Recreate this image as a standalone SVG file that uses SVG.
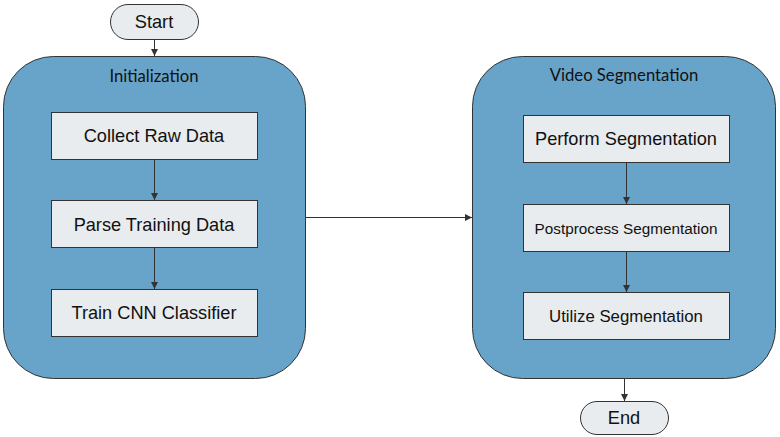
<svg xmlns="http://www.w3.org/2000/svg" width="780" height="437" viewBox="0 0 780 437">
<defs>
<marker id="ah" markerWidth="8" markerHeight="8" refX="7" refY="4" orient="auto" markerUnits="userSpaceOnUse">
<path d="M0,0.5 L7,4 L0,7.5 Z" fill="#333"/>
</marker>
<style>
.cont{fill:#68a4c9;stroke:#333;stroke-width:1}
.box{fill:#e8ecee;stroke:#333;stroke-width:1}
.term{fill:#e8ecee;stroke:#333;stroke-width:1}
.title{font-family:Lato,"Liberation Sans",sans-serif;font-size:16.7px;fill:#111;text-anchor:middle}
.lbl{font-family:"Liberation Sans",Arial,sans-serif;font-size:18.2px;fill:#111;text-anchor:middle}
.sm{font-size:15.3px}
.md{font-size:16.8px}
.conn{stroke:#333;stroke-width:1;fill:none;marker-end:url(#ah)}
</style>
</defs>
<g id="init"><rect class="cont" x="3.5" y="56.5" width="302" height="322" rx="50" ry="50"/><text class="title" x="154" y="82">Initialization</text></g>
<g id="video"><rect class="cont" x="472.5" y="56.5" width="303" height="322" rx="50" ry="50"/><text class="title" x="624" y="81">Video Segmentation</text></g>
<g id="start"><rect class="term" x="110.5" y="4.5" width="88" height="35" rx="17.5"/><text class="lbl" x="154" y="28">Start</text></g>
<g id="collect"><rect class="box" x="51.5" y="112.5" width="206" height="47"/><text class="lbl" x="154" y="142">Collect Raw Data</text></g>
<g id="parse"><rect class="box" x="51.5" y="200.5" width="206" height="47"/><text class="lbl" x="154" y="231">Parse Training Data</text></g>
<g id="train"><rect class="box" x="51.5" y="289.5" width="206" height="47"/><text class="lbl" x="154" y="319">Train CNN Classifier</text></g>
<g id="perform"><rect class="box" x="523.5" y="115.5" width="206" height="47"/><text class="lbl" x="626" y="145">Perform Segmentation</text></g>
<g id="post"><rect class="box" x="523.5" y="204.5" width="206" height="47"/><text class="lbl sm" x="626" y="234">Postprocess Segmentation</text></g>
<g id="utilize"><rect class="box" x="523.5" y="292.5" width="206" height="47"/><text class="lbl md" x="626" y="322">Utilize Segmentation</text></g>
<g id="end"><rect class="term" x="580.5" y="401.5" width="88" height="33" rx="16.5"/><text class="lbl" x="624" y="424">End</text></g>
<g id="connectors">
<line class="conn" x1="154.5" y1="39.5" x2="154.5" y2="56"/>
<line class="conn" x1="154.5" y1="159.5" x2="154.5" y2="200"/>
<line class="conn" x1="154.5" y1="247.5" x2="154.5" y2="289"/>
<line class="conn" x1="305.5" y1="217.5" x2="472" y2="217.5"/>
<line class="conn" x1="626.5" y1="162.5" x2="626.5" y2="204"/>
<line class="conn" x1="626.5" y1="251.5" x2="626.5" y2="292"/>
<line class="conn" x1="624.5" y1="378.5" x2="624.5" y2="401"/>
</g>
</svg>
